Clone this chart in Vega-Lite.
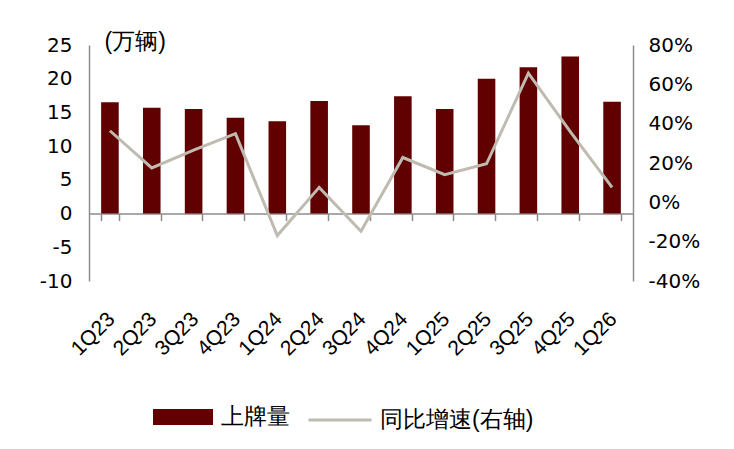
{
  "$schema": "https://vega.github.io/schema/vega-lite/v6.json",
  "autosize": "none",
  "padding": {"left": 89, "top": 45, "right": 101, "bottom": 168},
  "width": 544,
  "height": 236,
  "background": "white",
  "data": {
    "values": [
      {"q": "1Q23", "vol": 16.5, "yoy": 0.364},
      {"q": "2Q23", "vol": 15.7, "yoy": 0.175},
      {"q": "3Q23", "vol": 15.5, "yoy": 0.265},
      {"q": "4Q23", "vol": 14.2, "yoy": 0.349},
      {"q": "1Q24", "vol": 13.7, "yoy": -0.169},
      {"q": "2Q24", "vol": 16.7, "yoy": 0.076},
      {"q": "3Q24", "vol": 13.1, "yoy": -0.147},
      {"q": "4Q24", "vol": 17.4, "yoy": 0.228},
      {"q": "1Q25", "vol": 15.5, "yoy": 0.141},
      {"q": "2Q25", "vol": 20.0, "yoy": 0.196},
      {"q": "3Q25", "vol": 21.7, "yoy": 0.657},
      {"q": "4Q25", "vol": 23.3, "yoy": 0.36},
      {"q": "1Q26", "vol": 16.6, "yoy": 0.076}
    ]
  },
  "layer": [
    {
      "mark": {"type": "bar"},
      "encoding": {
        "x": {
          "field": "q",
          "type": "nominal",
          "sort": null,
          "scale": {"paddingInner": 0.58, "paddingOuter": 0.29},
          "axis": {
            "title": null,
            "domain": false,
            "ticks": false,
            "tickSize": 0,
            "labelAngle": -45,
            "labelPadding": 27,
            "labelOffset": -6,
            "labelFontSize": 21,
            "labelFont": "Liberation Sans",
            "labelColor": "#000000"
          }
        },
        "y": {
          "field": "vol",
          "type": "quantitative",
          "scale": {"domain": [-10, 25], "nice": false},
          "axis": {
            "values": [-10, -5, 0, 5, 10, 15, 20, 25],
            "labelExpr": "'' + datum.value",
            "grid": false,
            "ticks": false,
            "tickSize": 0,
            "domainColor": "#8C8C8C",
            "domainWidth": 1.5,
            "labelPadding": 17,
            "labelFontSize": 20,
            "labelFont": "DejaVu Sans",
            "labelColor": "#000000",
            "title": "(万辆)",
            "titleAngle": 0,
            "titleAlign": "left",
            "titleBaseline": "middle",
            "titleX": 15,
            "titleY": -4,
            "titleFontSize": 23,
            "titleFontWeight": "normal",
            "titleFont": "Liberation Sans",
            "titleColor": "#000000"
          }
        },
        "fill": {
          "datum": "上牌量",
          "scale": {"range": ["#600000"]},
          "legend": {
            "title": null,
            "orient": "none",
            "legendX": 64,
            "legendY": 342,
            "symbolType": "M-1,-0.267H1V0.267H-1Z",
            "symbolSize": 3600,
            "symbolStrokeWidth": 0,
            "labelFontSize": 23,
            "labelFont": "Liberation Sans",
            "labelColor": "#000000",
            "labelOffset": 8
          }
        }
      }
    },
    {
      "mark": {"type": "line", "strokeWidth": 3},
      "encoding": {
        "x": {
          "field": "q",
          "type": "nominal",
          "sort": null,
          "axis": {
            "orient": "bottom",
            "title": null,
            "labels": false,
            "offset": -67.4,
            "domainColor": "#8C8C8C",
            "domainWidth": 1.5,
            "tickColor": "#8C8C8C",
            "tickWidth": 1.5,
            "tickSize": 7,
            "tickBand": "extent"
          }
        },
        "y": {
          "field": "yoy",
          "type": "quantitative",
          "scale": {"domain": [-0.4, 0.8], "nice": false},
          "axis": {
            "orient": "right",
            "title": null,
            "values": [-0.4, -0.2, 0, 0.2, 0.4, 0.6, 0.8],
            "labelExpr": "round(datum.value * 100) + '%'",
            "grid": false,
            "ticks": false,
            "tickSize": 0,
            "domainColor": "#8C8C8C",
            "domainWidth": 1.5,
            "labelPadding": 15,
            "labelFontSize": 20,
            "labelFont": "DejaVu Sans",
            "labelColor": "#000000"
          }
        },
        "stroke": {
          "datum": "同比增速(右轴)",
          "scale": {"range": ["#BFBBB0"]},
          "legend": {
            "title": null,
            "orient": "none",
            "legendX": 218,
            "legendY": 342,
            "symbolType": "stroke",
            "symbolSize": 3969,
            "symbolStrokeWidth": 3,
            "labelFontSize": 23,
            "labelFont": "Liberation Sans",
            "labelColor": "#000000",
            "labelOffset": 7
          }
        }
      }
    }
  ],
  "resolve": {
    "scale": {"y": "independent"},
    "axis": {"x": "independent", "y": "independent"}
  },
  "config": {
    "view": {"stroke": null}
  }
}
